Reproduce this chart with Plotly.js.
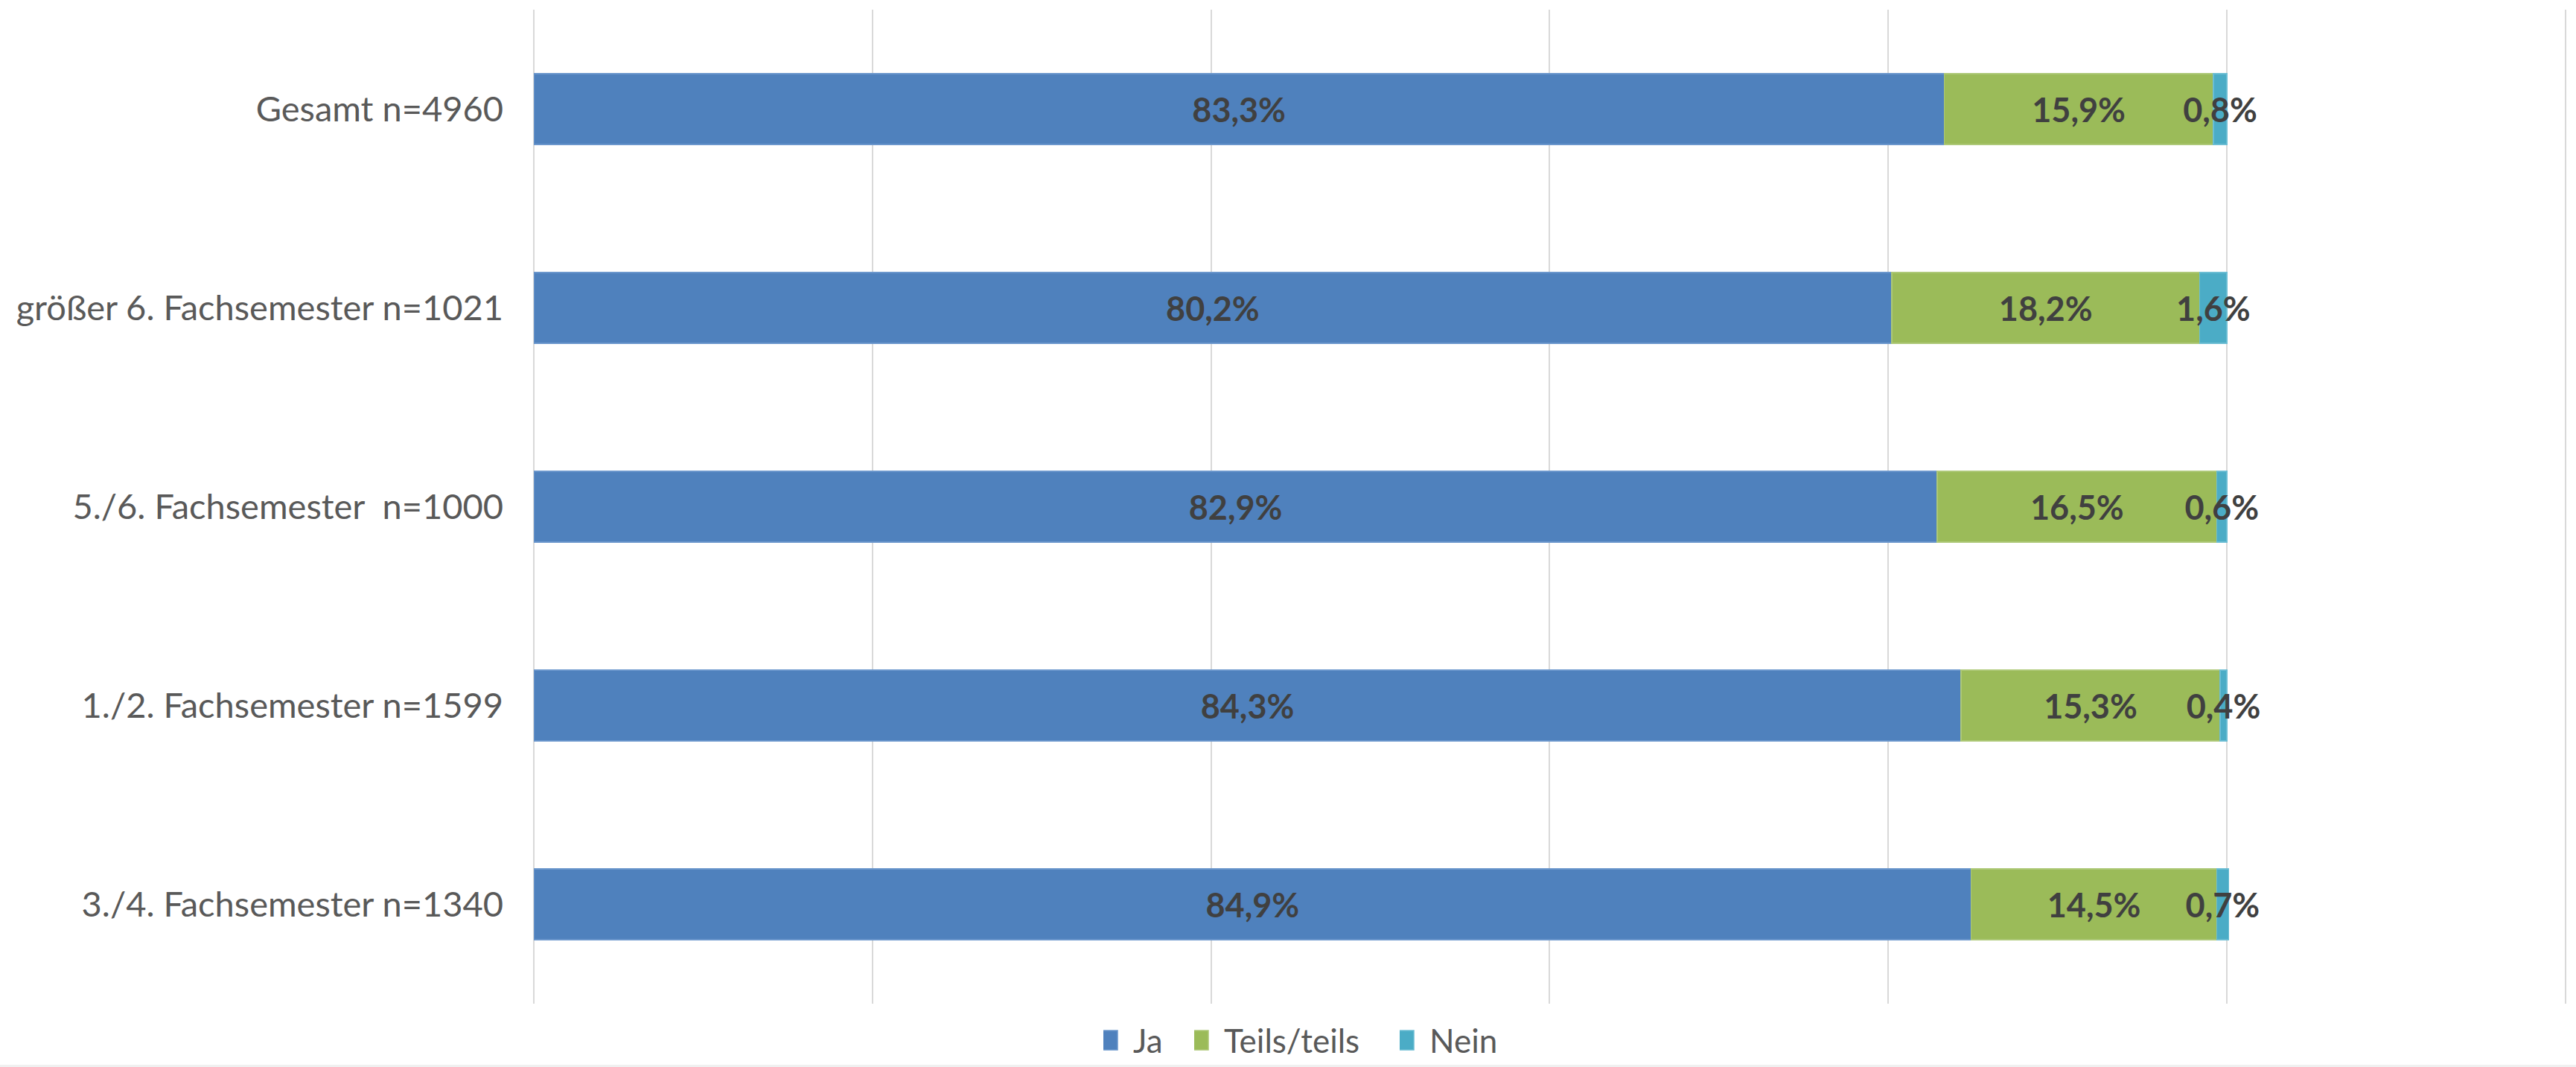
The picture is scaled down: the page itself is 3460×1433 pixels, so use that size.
<!DOCTYPE html>
<html>
<head>
<meta charset="utf-8">
<script src="https://cdn.plot.ly/plotly-3.0.1.min.js"></script>
<style>html,body{margin:0;padding:0;background:#fff;}#chart{width:3460px;height:1433px;}</style>
</head>
<body>
<div id="chart"></div>
<script>
// Categories (bottom to top as drawn)
const categories = [
  "3./4. Fachsemester n=1340",
  "1./2. Fachsemester n=1599",
  "5./6. Fachsemester  n=1000",
  "größer 6. Fachsemester n=1021",
  "Gesamt n=4960"
];
const seriesNames = ["Ja", "Teils/teils", "Nein"];
const ja    = [84.9, 84.3, 82.9, 80.2, 83.3];
const teils = [14.5, 15.3, 16.5, 18.2, 15.9];
const nein  = [0.7, 0.4, 0.6, 1.6, 0.8];
const colors = ["#4F81BD", "#9BBB59", "#4BACC6"];
const outline = ["#6A96CC", "#ADC877", "#6BBDD3"];

const fmt = v => v.toFixed(1).replace('.', ',') + '%';
const FONT = "Lato, 'Open Sans', sans-serif";
const legendIds = ['legend', 'legend2', 'legend3'];
const legendX = [1482, 1604, 1880];

const values = [ja, teils, nein];
const traces = values.map((vals, i) => ({
  type: 'bar',
  orientation: 'h',
  name: seriesNames[i],
  legend: legendIds[i],
  y: categories,
  x: vals,
  text: vals.map(fmt),
  textposition: 'inside',
  insidetextanchor: 'middle',
  textangle: 0,
  constraintext: 'none',
  cliponaxis: false,
  textfont: {family: FONT, size: 45, color: '#404040', weight: 'bold'},
  insidetextfont: {family: FONT, size: 45, color: '#404040', weight: 'bold'},
  marker: {color: colors[i], line: {color: outline[i], width: 1.5}},
  hoverinfo: 'none'
}));

function legendAt(px) {
  return {
    orientation: 'h',
    xref: 'container',
    yref: 'container',
    x: px / 3460,
    xanchor: 'left',
    y: -0.004,
    yanchor: 'bottom',
    font: {family: FONT, size: 44, color: '#595959'},
    itemwidth: 30,
    bgcolor: 'rgba(0,0,0,0)',
    borderwidth: 0
  };
}

const layout = {
  width: 3460,
  height: 1433,
  barmode: 'stack',
  bargap: 0.644,
  margin: {l: 717, r: 13, t: 13, b: 85, pad: 0},
  paper_bgcolor: '#ffffff',
  plot_bgcolor: '#ffffff',
  font: {family: FONT, color: '#595959'},
  xaxis: {
    range: [0, 120.05],
    dtick: 20,
    tick0: 0,
    showticklabels: false,
    ticks: '',
    showgrid: true,
    gridcolor: '#D9D9D9',
    gridwidth: 2,
    zeroline: true,
    zerolinecolor: '#D9D9D9',
    zerolinewidth: 2,
    showline: false,
    fixedrange: true
  },
  yaxis: {
    type: 'category',
    showgrid: false,
    zeroline: false,
    showline: false,
    ticks: '',
    ticklen: 0,
    tickfont: {family: FONT, size: 47, color: '#595959'},
    automargin: false,
    ticklabelstandoff: 40,
    fixedrange: true
  },
  showlegend: true,
  legend: legendAt(legendX[0]),
  legend2: legendAt(legendX[1]),
  legend3: legendAt(legendX[2]),
  shapes: [{
    type: 'rect', xref: 'paper', yref: 'paper',
    x0: -0.3, x1: 1.01, y0: -0.07, y1: -0.0614,
    fillcolor: '#F0F0F0', line: {width: 0}, layer: 'above'
  }]
};

Plotly.newPlot('chart', traces, layout, {displayModeBar: false, staticPlot: true}).then(gd => {
  document.querySelectorAll('.legendpoints path').forEach(p => {
    p.removeAttribute('transform');
    p.setAttribute('d', 'M19,13H-7V-13H19Z');
  });
});
</script>
</body>
</html>
